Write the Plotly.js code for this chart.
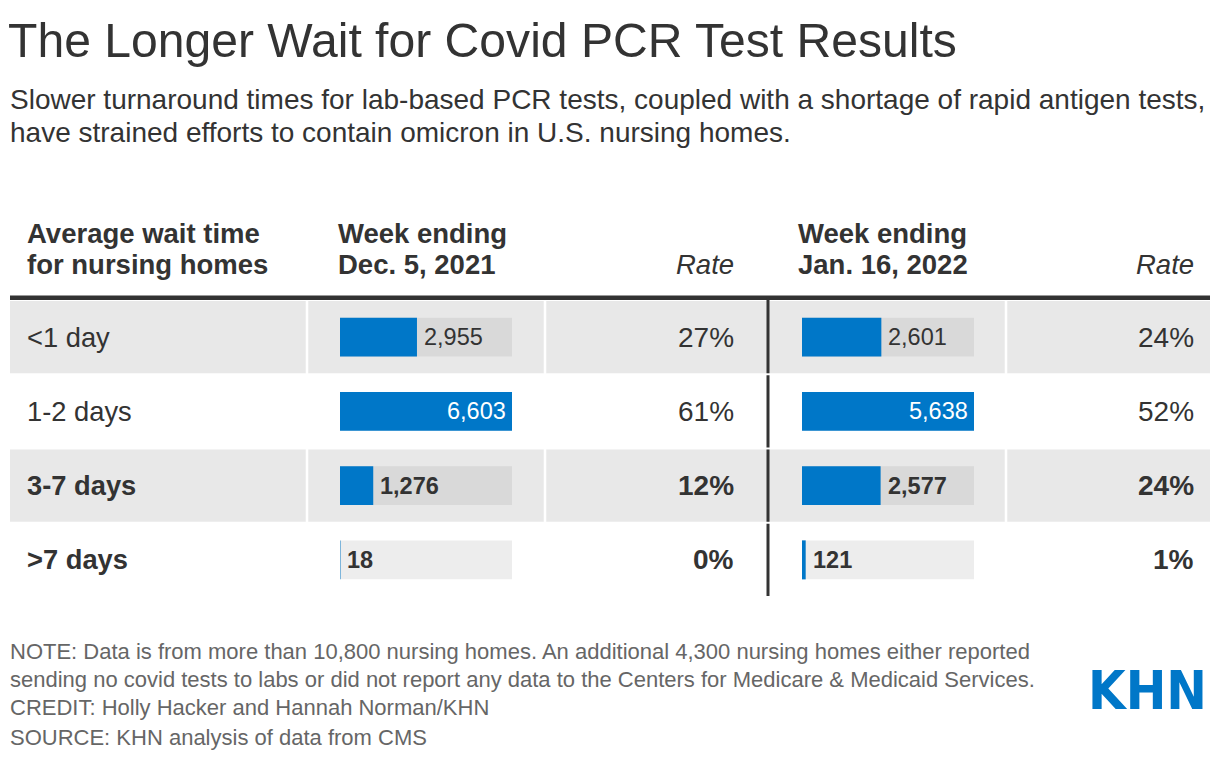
<!DOCTYPE html>
<html>
<head>
<meta charset="utf-8">
<script src="https://cdn.plot.ly/plotly-3.0.1.min.js"></script>
<style>
html,body{margin:0;padding:0;background:#fff;}
#chart{width:1220px;height:760px;}
</style>
</head>
<body>
<div id="chart"></div>
<script>
// ---- data ----
const waitCategories = ["<1 day", "1-2 days", "3-7 days", ">7 days"];
const dec2021Counts = [2955, 6603, 1276, 18];
const dec2021Rates = ["27%", "61%", "12%", "0%"];
const jan2022Counts = [2601, 5638, 2577, 121];
const jan2022Rates = ["24%", "52%", "24%", "1%"];
const boldRows = [false, false, true, true];

// ---- helpers ----
const W = 1220, H = 760;
const px = x => x / W;
const py = y => 1 - y / H;
const FONT = "'Liberation Sans', Arial, sans-serif";
const BLUE = "#0077c8";
const DARK = "#333333";

const rowTop = 300, rowH = 74.25;
const shadedRows = [0, 2];

const max1 = Math.max(...dec2021Counts);
const max2 = Math.max(...jan2022Counts);
const fmt = v => v.toLocaleString("en-US");

const backColor = waitCategories.map((c, i) => shadedRows.includes(i) ? "#d9d9d9" : "#ededed");

function barTraces(counts, maxV, xa) {
  return [
    {
      type: "bar", orientation: "h", x: counts.map(() => maxV), y: waitCategories,
      xaxis: xa, yaxis: "y", width: 0.525,
      marker: {color: backColor, line: {width: 0}}, hoverinfo: "skip", showlegend: false
    },
    {
      type: "bar", orientation: "h", x: counts, y: waitCategories,
      xaxis: xa, yaxis: "y", width: 0.525,
      marker: {color: BLUE, line: {width: 0}}, hoverinfo: "skip", showlegend: false
    }
  ];
}

const data = [...barTraces(dec2021Counts, max1, "x"), ...barTraces(jan2022Counts, max2, "x2")];

const shapes = [];
shadedRows.forEach(i => {
  shapes.push({type: "rect", xref: "paper", yref: "paper", layer: "below",
    x0: px(10), x1: px(1210), y0: py(rowTop + i * rowH + 1), y1: py(rowTop + (i + 1) * rowH - 1),
    fillcolor: "#e8e8e8", line: {width: 0}});
});
[307, 545, 1006].forEach(x => {
  shapes.push({type: "line", xref: "paper", yref: "paper", layer: "below",
    x0: px(x), x1: px(x), y0: py(rowTop), y1: py(rowTop + 4 * rowH),
    line: {color: "#ffffff", width: 2.5}});
});
shapes.push({type: "rect", xref: "paper", yref: "paper",
  x0: px(10), x1: px(1210), y0: py(300), y1: py(295.5), fillcolor: DARK, line: {width: 0}});
for (let i = 0; i < 4; i++) {
  shapes.push({type: "line", xref: "paper", yref: "paper",
    x0: px(768), x1: px(768), y0: py(i === 0 ? 297 : rowTop + i * rowH + 1), y1: py(rowTop + (i + 1) * rowH - 1),
    line: {color: DARK, width: 3}});
}

const annotations = [];
function txt(text, x, y, size, opts = {}) {
  annotations.push(Object.assign({
    text: text, xref: "paper", yref: "paper", x: px(x), y: py(y),
    xanchor: "left", yanchor: "middle", showarrow: false,
    font: {family: FONT, size: size, color: DARK}
  }, opts));
}

txt("The Longer Wait for Covid PCR Test Results", 6, 40, 48.1);
txt("Slower turnaround times for lab-based PCR tests, coupled with a shortage of rapid antigen tests,", 8, 100, 28);
txt("have strained efforts to contain omicron in U.S. nursing homes.", 8, 132, 28);

const HS = 27.5;
txt("<b>Average wait time</b>", 25, 233, HS);
txt("<b>for nursing homes</b>", 25, 265, HS);
txt("<b>Week ending</b>", 336, 233, HS);
txt("<b>Dec. 5, 2021</b>", 336, 265, HS);
txt("<i>Rate</i>", 736, 265, HS, {xanchor: "right"});
txt("<b>Week ending</b>", 796, 233, HS);
txt("<b>Jan. 16, 2022</b>", 796, 265, HS);
txt("<i>Rate</i>", 1196, 265, HS, {xanchor: "right"});

waitCategories.forEach((c, i) => {
  const yc = rowTop + (i + 0.5) * rowH;
  const wrap = s => boldRows[i] ? "<b>" + s + "</b>" : s;
  txt(wrap(c.replace("<", "&lt;").replace(">", "&gt;")), 25, yc, 27.3);
  txt(wrap(dec2021Rates[i]), 736, yc, 28, {xanchor: "right"});
  txt(wrap(jan2022Rates[i]), 1196, yc, 28, {xanchor: "right"});
});

function valueLabels(counts, maxV, xa) {
  counts.forEach((v, i) => {
    const inside = v / maxV > 0.8;
    const s = boldRows[i] ? "<b>" + fmt(v) + "</b>" : fmt(v);
    annotations.push({
      text: s, xref: xa, yref: "y", x: v, y: waitCategories[i],
      xanchor: inside ? "right" : "left", yanchor: "middle",
      xshift: inside ? -4 : 5, showarrow: false,
      font: {family: FONT, size: 23.5, color: inside ? "#ffffff" : DARK}
    });
  });
}
valueLabels(dec2021Counts, max1, "x");
valueLabels(jan2022Counts, max2, "x2");

const FOOT = "#666666";
const FS = 22;
const ff = {font: {family: FONT, size: FS, color: FOOT}};
txt("NOTE: Data is from more than 10,800 nursing homes. An additional 4,300 nursing homes either reported", 8, 651, FS, ff);
txt("sending no covid tests to labs or did not report any data to the Centers for Medicare &amp; Medicaid Services.", 8, 679, FS, ff);
txt("CREDIT: Holly Hacker and Hannah Norman/KHN", 8, 707, FS, ff);
txt("SOURCE: KHN analysis of data from CMS", 8, 737, FS, ff);
txt("<b>KHN</b>", 1209, 690, 54, {xanchor: "right", font: {family: "'DejaVu Sans Condensed', 'DejaVu Sans', sans-serif", size: 54, weight: 700, color: BLUE}});

const layout = {
  width: W, height: H,
  margin: {l: 0, r: 0, t: 0, b: 0},
  font: {family: FONT},
  paper_bgcolor: "#ffffff", plot_bgcolor: "rgba(0,0,0,0)",
  barmode: "overlay", showlegend: false,
  xaxis: {domain: [px(340), px(512)], range: [0, max1], visible: false, fixedrange: true},
  xaxis2: {domain: [px(802), px(974)], range: [0, max2], visible: false, fixedrange: true, anchor: "y"},
  yaxis: {domain: [py(rowTop + 4 * rowH), py(rowTop)], range: [3.5, -0.5], type: "category",
    categoryorder: "array", categoryarray: waitCategories, visible: false, fixedrange: true},
  shapes: shapes, annotations: annotations
};

Plotly.newPlot("chart", data, layout, {staticPlot: true, displayModeBar: false});
</script>
</body>
</html>
